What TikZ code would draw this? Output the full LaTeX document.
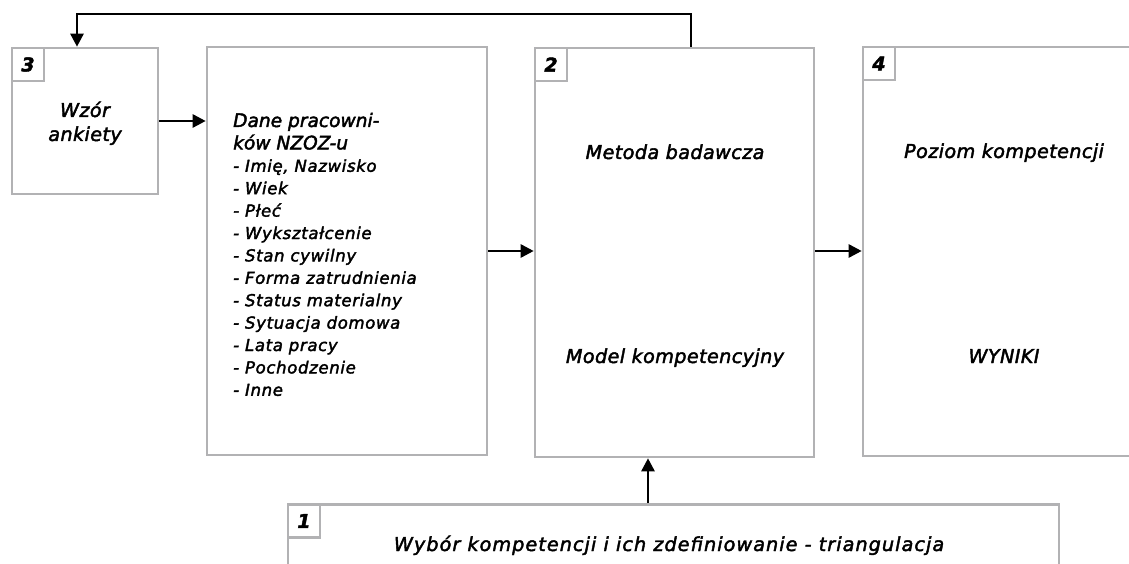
\documentclass[tikz,border=0pt]{standalone}
\usepackage{fontspec}
\setmainfont{DejaVu Sans}[LetterSpace=2,FakeBold=2.2]
\usetikzlibrary{arrows.meta,positioning}
\definecolor{ramka}{RGB}{178,178,180}
\tikzset{
  blok/.style={draw=ramka, line width=2.6pt, fill=white, inner sep=0pt},
  nr/.style={draw=ramka, line width=2.6pt, minimum width=32pt, minimum height=33pt, inner sep=0pt, anchor=north west, font=\fontsize{19}{20}\selectfont\bfseries\itshape},
  opis/.style={font=\fontsize{19.2}{25}\selectfont\itshape, anchor=base, inner sep=0pt},
  lista/.style={font=\fontsize{16.5}{22}\selectfont\itshape\addfontfeatures{LetterSpace=4}, anchor=base west, inner sep=0pt},
  strz/.style={line width=2.6pt, -{Triangle[length=13pt,width=13pt]}}
}

\begin{document}
\begin{tikzpicture}[x=1pt,y=-1pt]
\clip (0,0) rectangle (1129,564);
% bloki
\node[blok, minimum width=146pt, minimum height=146pt] (wzor) at (85,121) {};
\node[blok, minimum width=280pt, minimum height=408pt] (dane) at (347,251) {};
\node[blok, minimum width=279pt, minimum height=409pt] (metoda) at (674.5,252.5) {};
\node[blok, minimum width=282pt, minimum height=409pt] (wyniki) at (1004,251.5) {};
\node[blok, minimum width=771pt, minimum height=115pt] (wybor) at (673.5,562) {};
% numery
\node[nr] (n3) at (wzor.north west) {3};
\node[nr] (n2) at (metoda.north west) {2};
\node[nr] (n4) at (wyniki.north west) {4};
\node[nr] (n1) at (wybor.north west) {1};
% teksty
\node[opis] (t3a) at (85,117) {Wzór};
\node[opis] (t3b) at (85,141) {ankiety};
\node[opis] (t2a) at (675,159) {Metoda badawcza};
\node[opis] (t2b) at (675,363) {Model kompetencyjny};
\node[opis] (t4a) at (1004,158) {Poziom kompetencji};
\node[opis] (t4b) at (1004,363) {WYNIKI};
\node[opis, font=\fontsize{19.2}{25}\selectfont\itshape\addfontfeatures{LetterSpace=5.5}] (t1) at (669,551) {Wybór kompetencji i ich zdefiniowanie - triangulacja};
\node[lista, font=\fontsize{18.6}{22}\selectfont\itshape\addfontfeatures{LetterSpace=0}] (d1) at (233,127) {Dane pracowni-};
\node[lista, font=\fontsize{18.6}{22}\selectfont\itshape\addfontfeatures{LetterSpace=0}] (d2) at (233,149.4) {ków NZOZ-u};
\foreach [count=\i] \t in {{Imię, Nazwisko},Wiek,Płeć,Wykształcenie,Stan cywilny,Forma zatrudnienia,
  Status materialny,Sytuacja domowa,Lata pracy,Pochodzenie,Inne}
  \node[lista] (p\i) at (233,149.4+22.4*\i) {- \t};
% strzalki
\coordinate (fb) at (691,14);
\coordinate (dol) at (648,0);
\draw[strz] (wzor.east) -- (dane.west |- wzor.east);
\draw[strz] (dane.east) -- (metoda.west |- dane.east);
\draw[strz] (metoda.east |- dane.east) -- (wyniki.west |- dane.east);
\draw[strz] (wybor.north -| dol) -- (metoda.south -| dol);
\draw[strz] (metoda.north -| fb) |- ([xshift=-8pt]wzor.north |- fb) -- ([xshift=-8pt]wzor.north);
\end{tikzpicture}
\end{document}
